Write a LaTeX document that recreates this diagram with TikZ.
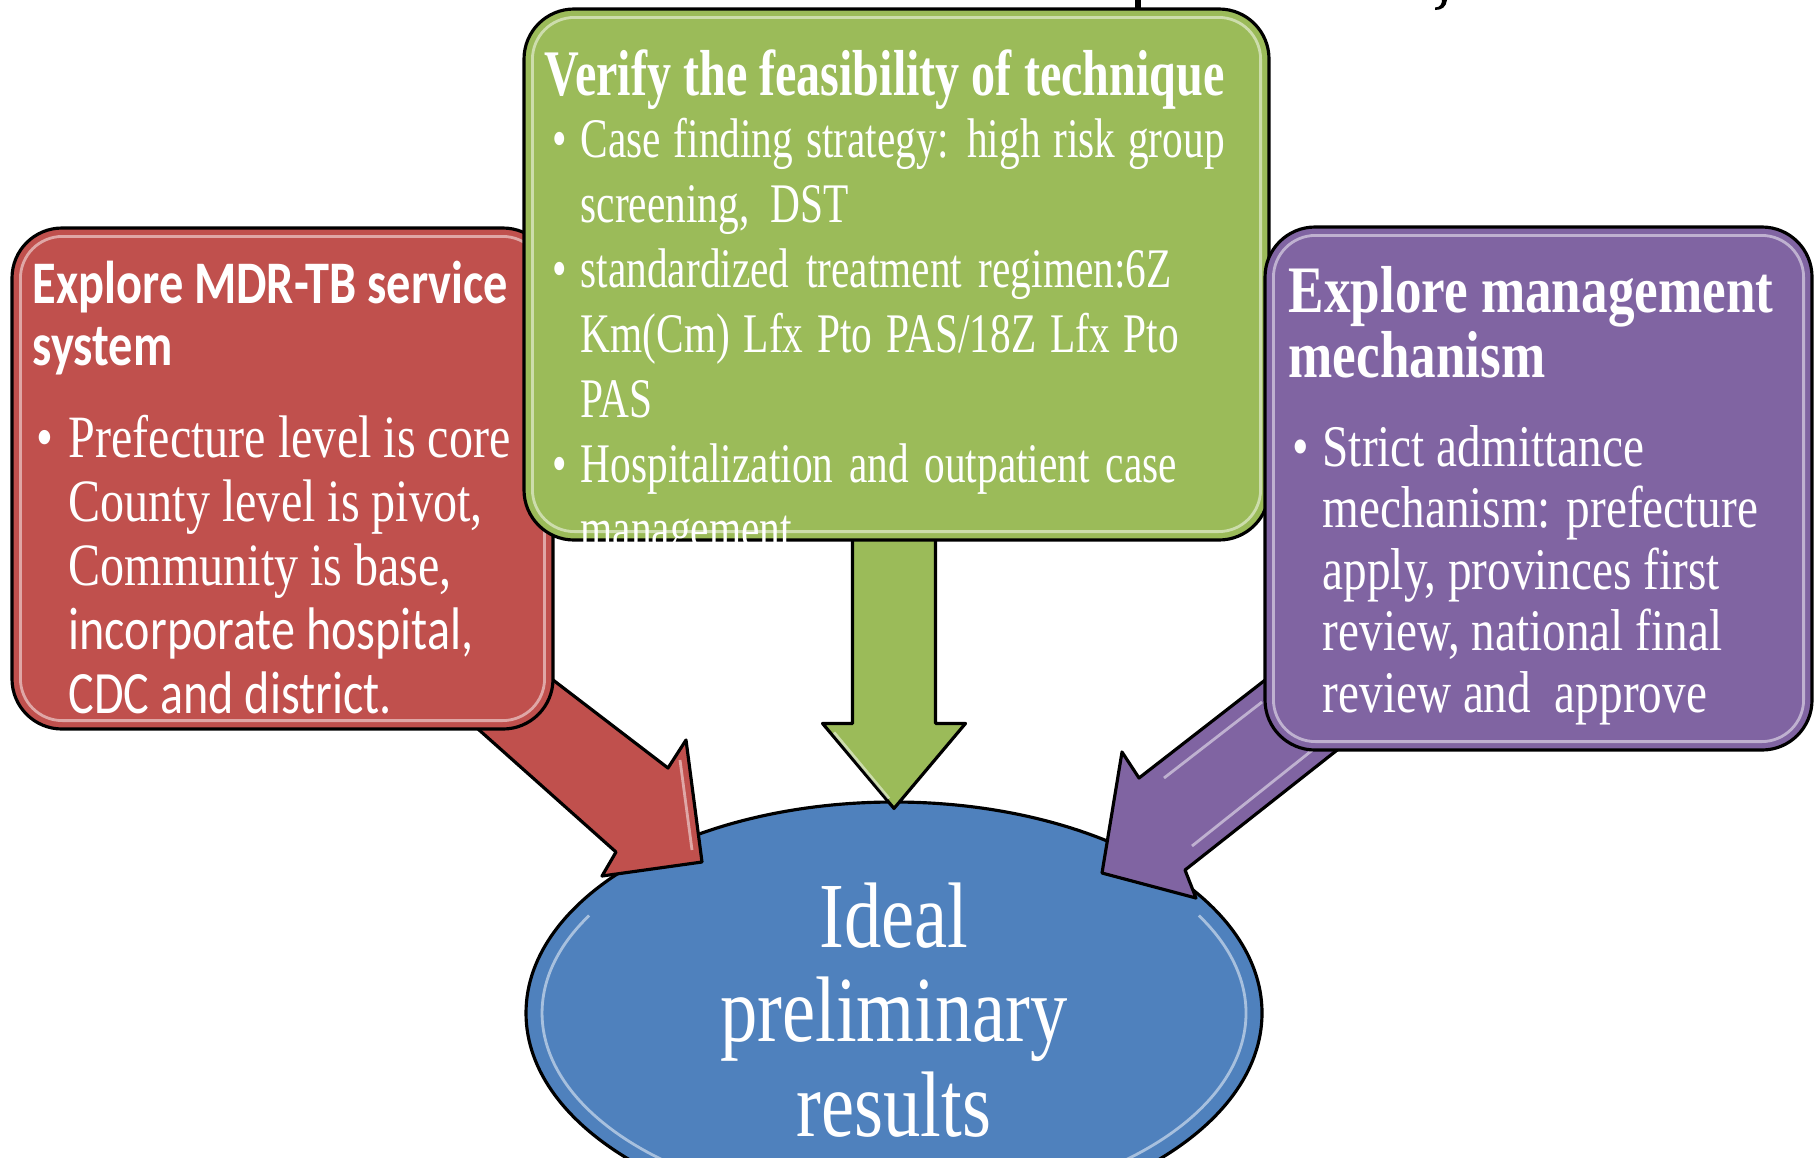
\documentclass[tikz,border=0pt]{standalone}
\usepackage{fontspec}
\setmainfont{Liberation Serif}
\newfontfamily\tnr[FakeStretch=0.8]{Liberation Serif}
\newfontfamily\tnrg[FakeStretch=0.74]{Liberation Serif}
\newfontfamily\cbr[FakeStretch=0.8]{Carlito}
\usetikzlibrary{positioning,calc,shapes.geometric,backgrounds}

\definecolor{tbred}{HTML}{C0504D}
\definecolor{tbgreen}{HTML}{9BBB59}
\definecolor{tbpurple}{HTML}{8064A2}
\definecolor{tbblue}{HTML}{4F81BD}

\tikzset{
  panel/.style={draw=black, line width=0.9pt, rounded corners=0.5cm, inner sep=0pt},
  gloss/.style={draw=white, opacity=0.5, line width=0.8pt, rounded corners=0.42cm},
  blockarrow/.style={draw=black, line width=0.9pt, line join=round},
  txt/.style={text=white, inner sep=0pt, anchor=base west},
}

\begin{document}
\begin{tikzpicture}
    \useasboundingbox (0,0) rectangle (18.14,-11.57);

    % the three boxes
    \node[panel, fill=tbred, minimum width=5.41cm, minimum height=5.01cm] (svc) at (2.825,-4.785) {};
    \draw[gloss] ($(svc.north west)+(0.1,-0.1)$) rectangle ($(svc.south east)+(-0.1,0.1)$);
    \node[panel, fill=tbgreen, minimum width=7.45cm, minimum height=5.31cm] (tech) at (8.965,-2.745) {};
    \draw[gloss] ($(tech.north west)+(0.1,-0.1)$) rectangle ($(tech.south east)+(-0.1,0.1)$);
    \node[panel, fill=tbpurple, minimum width=5.47cm, minimum height=5.23cm] (mgmt) at (15.385,-4.885) {};
    \draw[gloss] ($(mgmt.north west)+(0.1,-0.1)$) rectangle ($(mgmt.south east)+(-0.1,0.1)$);

    % result and arrows, behind the boxes
    \begin{scope}[on background layer]
        \node[ellipse, draw=black, line width=0.9pt, fill=tbblue, inner sep=0pt,
              minimum width=7.36cm, minimum height=4.22cm] (goal) at (8.94,-10.13) {};
        \draw[gloss] ($(goal.center)+(-3.048,0.975)$) arc[start angle=150, end angle=250, x radius=3.52, y radius=1.95];
        \draw[gloss] ($(goal.center)+(1.204,-1.833)$) arc[start angle=-70, end angle=30, x radius=3.52, y radius=1.95];

        \draw[blockarrow, fill=tbgreen]
            ($(tech.south -| goal.north)+(-0.415,0.1)$) -- ($(goal.north)+(-0.415,0.77)$)
            -- ($(goal.north)+(-0.715,0.77)$) -- ($(goal.north)+(0,-0.08)$)
            -- ($(goal.north)+(0.715,0.77)$) -- ($(goal.north)+(0.415,0.77)$)
            -- ($(tech.south -| goal.north)+(0.415,0.1)$) -- cycle;
        \draw[gloss] ($(goal.north)+(-0.6,0.68)$) -- ($(goal.north)+(-0.05,0.02)$);
        \draw[blockarrow, fill=tbred]
            ($(svc.south east)+(-1.23,0.43)$) -- ($(goal.center)+(-2.78,1.61)$)
            -- ($(goal.center)+(-2.92,1.37)$) -- ($(goal.center)+(-1.92,1.51)$)
            -- ($(goal.center)+(-2.08,2.73)$) -- ($(goal.center)+(-2.26,2.45)$)
            -- ($(svc.south east)+(-0.53,0.90)$) -- cycle;
        \draw[gloss] ($(goal.center)+(-2.14,2.53)$) -- ($(goal.center)+(-2.02,1.63)$);
        \draw[blockarrow, fill=tbpurple]
            ($(mgmt.south west)+(0.55,1.13)$) -- ($(goal.center)+(2.45,2.35)$)
            -- ($(goal.center)+(2.28,2.61)$) -- ($(goal.center)+(2.08,1.40)$)
            -- ($(goal.center)+(3.02,1.15)$) -- ($(goal.center)+(2.91,1.43)$)
            -- ($(mgmt.south west)+(1.25,0.42)$) -- cycle;
        \draw[gloss] ($(goal.center)+(2.70,2.35)$) -- ($(goal.center)+(3.68,3.11)$);
        \draw[gloss] ($(goal.center)+(2.98,1.67)$) -- ($(goal.center)+(4.31,2.73)$);
    \end{scope}

    % fragments of the cut-off title
    \fill (11.35,0) rectangle (11.41,-0.095);
    \fill (14.47,0) .. controls (14.46,-0.07) and (14.42,-0.1) .. (14.35,-0.1)
        -- (14.35,-0.075) .. controls (14.40,-0.075) and (14.42,-0.04) .. (14.42,0) -- cycle;

    % texts
    \node[txt] (svchead) at (0.32,-3.03) {\cbr\bfseries\fontsize{17.2}{17.9}\selectfont
        \begin{tabular}[t]{@{}l@{}}Explore MDR-TB service\\ system\end{tabular}};
    \node[txt] (svcbody) at (0.36,-4.57) {\tnr\fontsize{17.1}{18.25}\selectfont
        \begin{tabular}[t]{@{}p{0.32cm}@{}l@{}}
        \textbullet & Prefecture level is core\\
         & County level is pivot,\\
         & Community is base,\\
         & {\cbr incorporate hospital,}\\
         & {\cbr CDC and district.}
        \end{tabular}};

    \node[txt] (techhead) at (5.44,-0.95) {\tnrg\bfseries\fontsize{18.5}{18.5}\selectfont Verify the feasibility of technique};
    \node[txt] (techbody) at (5.52,-1.57) {\tnrg\fontsize{15.9}{18.5}\selectfont
        \begin{tabular}[t]{@{}p{0.28cm}@{}l@{}}
        \textbullet & \makebox[6.44cm][s]{Case finding strategy: high risk group}\\
         & screening,~ DST\\
        \textbullet & \makebox[5.91cm][s]{standardized treatment regimen:6Z}\\
         & \makebox[5.98cm][s]{Km(Cm) Lfx Pto PAS/18Z Lfx Pto}\\
         & PAS\\
        \textbullet & \makebox[5.96cm][s]{Hospitalization and outpatient case}\\
         & management
        \end{tabular}};

    \node[txt] (mgmthead) at (12.88,-3.12) {\tnr\bfseries\fontsize{18.9}{18.2}\selectfont
        \begin{tabular}[t]{@{}l@{}}Explore management\\ mechanism\end{tabular}};
    \node[txt] (mgmtbody) at (12.92,-4.66) {\tnr\fontsize{16.8}{17.5}\selectfont
        \begin{tabular}[t]{@{}p{0.30cm}@{}l@{}}
        \textbullet & Strict admittance\\
         & mechanism: prefecture\\
         & apply, provinces first\\
         & review, national final\\
         & review and~ approve
        \end{tabular}};

    \node[txt, anchor=base] (goaltext) at (8.94,-9.47) {\tnr\fontsize{26.5}{27}\selectfont
        \begin{tabular}[t]{@{}c@{}}Ideal\\ preliminary\\ results\end{tabular}};
\end{tikzpicture}
\end{document}
